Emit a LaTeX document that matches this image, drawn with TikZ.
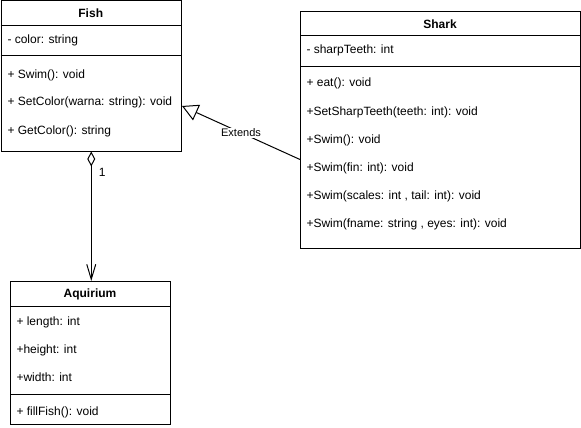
\documentclass[tikz,border=0pt]{standalone}
\usepackage{fontspec}
\setmainfont{Liberation Sans}
\usetikzlibrary{arrows.meta,positioning}

\begin{document}
\begin{tikzpicture}[
        x=1pt, y=-1pt,
        every path/.style={line width=1pt},
        classbox/.style={draw, rectangle, anchor=north west, inner sep=0pt},
        title/.style={anchor=base, inner sep=0pt, font=\fontsize{12}{14}\selectfont\bfseries},
        member/.style={anchor=base west, inner sep=0pt, font=\fontsize{12}{14}\selectfont},
        edgelabel/.style={fill=white, inner sep=1pt, font=\fontsize{11}{13}\selectfont}
    ]
    \useasboundingbox (0,0) rectangle (581,428);

    % Boxes
    \node[classbox, minimum width=180.5pt, minimum height=150pt] (fish) at (0.5,0.5) {};
    \node[classbox, minimum width=280pt, minimum height=237pt] (shark) at (300,11) {};
    \node[classbox, minimum width=160pt, minimum height=143pt] (aquirium) at (10,281) {};

    % Compartments
    \draw ([yshift=-25.5pt]fish.north west) -- ([yshift=-25.5pt]fish.north east);
    \draw ([yshift=-55.5pt]fish.north west) -- ([yshift=-55.5pt]fish.north east);
    \draw ([yshift=-25pt]shark.north west) -- ([yshift=-25pt]shark.north east);
    \draw ([yshift=-56pt]shark.north west) -- ([yshift=-56pt]shark.north east);
    \draw ([yshift=-25pt]aquirium.north west) -- ([yshift=-25pt]aquirium.north east);
    \draw ([yshift=-113pt]aquirium.north west) -- ([yshift=-113pt]aquirium.north east);

    % Fish
    \node[title] (fishTitle) at (90.75,18) {Fish};
    \node[member] (fishColor) at (7,44) {- color: string};
    \node[member] (fishSwim) at (7,78) {+ Swim(): void};
    \node[member] (fishSet) at (7,106) {+ SetColor(warna: string): void};
    \node[member] (fishGet) at (7,134) {+ GetColor(): string};

    % Shark
    \node[title] (sharkTitle) at (440,29) {Shark};
    \node[member] (sharkTeeth) at (306,54) {- sharpTeeth: int};
    \node[member] (sharkEat) at (306,87) {+ eat(): void};
    \node[member] (sharkSet) at (306,115) {+SetSharpTeeth(teeth: int): void};
    \node[member] (sharkSwimA) at (306,143) {+Swim(): void};
    \node[member] (sharkSwimB) at (306,171) {+Swim(fin: int): void};
    \node[member] (sharkSwimC) at (306,199) {+Swim(scales: int , tail: int): void};
    \node[member] (sharkSwimD) at (306,227) {+Swim(fname: string , eyes: int): void};

    % Aquirium
    \node[title] (aquiriumTitle) at (90,297) {Aquirium};
    \node[member] (aquiriumLength) at (16,325) {+ length: int};
    \node[member] (aquiriumHeight) at (16,353) {+height: int};
    \node[member] (aquiriumWidth) at (16,381) {+width: int};
    \node[member] (aquiriumFill) at (16,415) {+ fillFish(): void};

    % Connectors
    \draw[{Diamond[open,length=15pt,width=8pt]}-{Straight Barb[length=15pt,width=9pt]}]
        (fish.south) -- (fish.south |- aquirium.north)
        node[pos=0.16, anchor=west, inner sep=0pt, xshift=7pt, font=\fontsize{12}{14}\selectfont] (mult) {1};
    \draw[-{Triangle[open,length=16pt,width=17pt]}]
        ([yshift=-29.5pt]shark.west) -- ([yshift=-30pt]fish.east)
        node[midway, edgelabel] (extends) {Extends};

\end{tikzpicture}
\end{document}
